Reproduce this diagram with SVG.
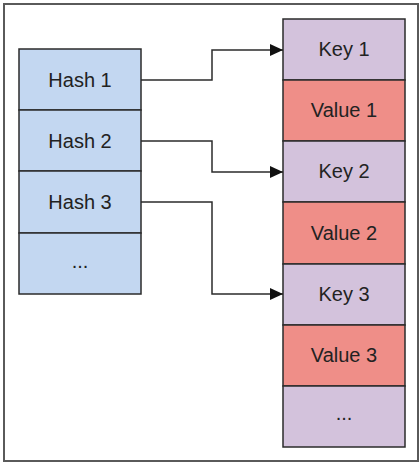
<svg xmlns="http://www.w3.org/2000/svg" width="420" height="462" viewBox="0 0 420 462">
<style>
.frame{fill:#fff;stroke:#5a5a5a;stroke-width:2}
.cell{stroke:#2b2b2b;stroke-width:1.5}
.hash{fill:#c3d7f1}
.key{fill:#d3c2dc}
.val{fill:#ef8e88}
.t{font-family:"Liberation Sans",Arial,sans-serif;font-size:20px;fill:#222;text-anchor:middle}
.conn{fill:none;stroke:#2b2b2b;stroke-width:1.5}
</style>
<defs>
<marker id="ah" markerWidth="13" markerHeight="12" refX="13" refY="6" orient="auto" markerUnits="userSpaceOnUse">
<path d="M0,0 L13,6 L0,12 Z" fill="#111"/>
</marker>
</defs>
<rect class="frame" x="4" y="4" width="414" height="457"/>
<g id="hash1"><rect class="cell hash" x="19" y="49" width="122" height="61"/><text class="t" x="80" y="87">Hash 1</text></g>
<g id="hash2"><rect class="cell hash" x="19" y="110" width="122" height="61"/><text class="t" x="80" y="148">Hash 2</text></g>
<g id="hash3"><rect class="cell hash" x="19" y="171" width="122" height="62"/><text class="t" x="80" y="209">Hash 3</text></g>
<g id="hash-more"><rect class="cell hash" x="19" y="233" width="122" height="61"/><text class="t" x="80" y="268">...</text></g>
<g id="key1"><rect class="cell key" x="283" y="19" width="122" height="61"/><text class="t" x="344" y="56">Key 1</text></g>
<g id="value1"><rect class="cell val" x="283" y="80" width="122" height="61"/><text class="t" x="344" y="117">Value 1</text></g>
<g id="key2"><rect class="cell key" x="283" y="141" width="122" height="61"/><text class="t" x="344" y="178">Key 2</text></g>
<g id="value2"><rect class="cell val" x="283" y="202" width="122" height="62"/><text class="t" x="344" y="240">Value 2</text></g>
<g id="key3"><rect class="cell key" x="283" y="264" width="122" height="61"/><text class="t" x="344" y="301">Key 3</text></g>
<g id="value3"><rect class="cell val" x="283" y="325" width="122" height="61"/><text class="t" x="344" y="362">Value 3</text></g>
<g id="kv-more"><rect class="cell key" x="283" y="386" width="122" height="61"/><text class="t" x="344" y="420">...</text></g>
<g id="connectors">
<path class="conn" d="M141,80 H212 V50 H283" marker-end="url(#ah)"/>
<path class="conn" d="M141,141 H212 V172 H283" marker-end="url(#ah)"/>
<path class="conn" d="M141,202 H212 V294 H283" marker-end="url(#ah)"/>
</g>
</svg>
